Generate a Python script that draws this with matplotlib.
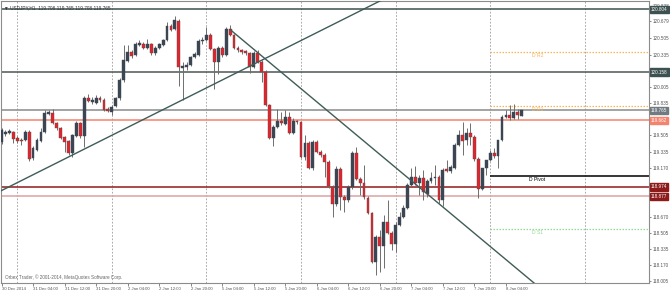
import matplotlib
matplotlib.use('Agg')
import matplotlib.pyplot as plt
from matplotlib.patches import Rectangle

plt.rcParams['font.family'] = ['Liberation Sans', 'DejaVu Sans']

# ---------------- data (USDJPY H1, bar index 0 = 30 Dec 2014 20:00) ----------------
opens = [119.437,119.520,119.530,119.540,119.479,119.458,119.458,119.540,119.273,119.355,
         119.448,119.540,119.726,119.736,119.633,119.582,119.489,119.448,119.324,119.499,
         119.633,119.499,119.891,119.849,119.839,119.891,119.870,119.777,119.746,119.808,
         119.891,120.076,120.272,120.364,120.334,120.437,120.447,120.406,120.447,120.354,
         120.406,120.437,120.488,120.632,120.601,120.684,120.200,120.210,120.230,120.313,
         120.334,120.478,120.488,120.540,120.395,120.261,120.406,120.334,120.601,120.540,
         120.406,120.385,120.375,120.354,120.210,120.354,120.261,120.158,119.819,119.479,
         119.592,119.654,119.623,119.695,119.530,119.654,119.643,119.283,119.427,119.170,
         119.437,119.334,119.304,119.231,118.974,118.799,119.159,118.871,118.840,118.974,
         119.324,119.057,119.015,118.861,118.706,118.201,118.459,118.366,118.613,118.500,
         118.387,118.583,118.665,118.758,118.995,119.077,119.015,119.067,118.902,119.036,
         119.067,119.077,118.840,119.159,119.139,119.170,119.407,119.510,119.458,119.530,
         119.489,119.262,118.953,119.170,119.252,119.324,119.293,119.458,119.695,119.716,
         119.685,119.746,119.708]
highs = [119.582,119.561,119.571,119.551,119.499,119.479,119.561,119.561,119.396,119.479,
         119.582,119.767,119.767,119.777,119.643,119.592,119.499,119.458,119.520,119.654,
         119.643,119.911,119.932,119.901,119.922,119.911,119.891,119.798,119.819,119.901,
         120.097,120.437,120.437,120.385,120.467,120.488,120.467,120.498,120.457,120.426,
         120.457,120.498,120.673,120.653,120.735,120.704,120.261,120.261,120.323,120.364,
         120.498,120.519,120.622,120.560,120.406,120.426,120.426,120.622,120.643,120.550,
         120.426,120.395,120.385,120.364,120.375,120.385,120.282,120.179,119.829,119.613,
         119.777,119.746,119.767,119.746,119.685,119.664,119.654,119.510,119.448,119.458,
         119.458,119.355,119.324,119.252,118.995,119.190,119.180,118.892,118.995,119.345,
         119.386,119.077,119.200,118.881,118.716,118.479,118.531,118.686,118.840,118.520,
         118.613,118.716,118.789,119.015,119.170,119.190,119.098,119.149,119.057,119.128,
         119.200,119.098,119.170,119.252,119.200,119.427,119.561,119.643,119.582,119.633,
         119.510,119.283,119.170,119.252,119.355,119.376,119.458,119.716,119.767,119.818,
         119.829,119.777,119.765]
lows = [119.417,119.499,119.520,119.427,119.427,119.407,119.448,119.242,119.252,119.345,
        119.437,119.530,119.716,119.623,119.561,119.468,119.334,119.304,119.283,119.489,
        119.479,119.386,119.849,119.829,119.829,119.849,119.757,119.746,119.716,119.798,
        119.870,120.055,120.261,120.303,120.323,120.426,120.395,120.395,120.334,120.334,
        120.395,120.426,120.478,120.581,120.591,120.014,119.870,120.179,120.220,120.303,
        120.323,120.447,120.478,120.385,119.983,120.138,120.313,120.323,120.529,120.395,
        120.364,120.344,120.334,120.148,120.200,120.251,120.055,119.808,119.468,119.396,
        119.582,119.613,119.613,119.520,119.520,119.623,119.273,119.252,119.159,119.149,
        119.324,119.283,119.077,118.964,118.665,118.778,118.737,118.716,118.819,118.953,
        119.046,118.892,118.850,118.696,118.191,118.068,118.098,118.140,118.490,118.325,
        118.304,118.572,118.655,118.747,118.984,118.995,118.892,118.840,118.871,119.015,
        118.995,118.809,118.778,119.128,119.118,119.159,119.396,119.304,119.407,119.407,
        119.242,118.861,118.943,119.098,119.242,119.273,119.170,119.448,119.685,119.664,
        119.675,119.675,119.708]
closes = [119.561,119.540,119.551,119.468,119.448,119.448,119.540,119.262,119.376,119.458,
          119.540,119.736,119.746,119.633,119.582,119.479,119.437,119.324,119.510,119.633,
          119.499,119.891,119.860,119.870,119.891,119.870,119.767,119.757,119.798,119.891,
          120.076,120.282,120.364,120.323,120.447,120.457,120.406,120.447,120.354,120.406,
          120.447,120.488,120.632,120.591,120.694,120.210,120.220,120.230,120.313,120.344,
          120.478,120.488,120.540,120.395,120.261,120.406,120.334,120.601,120.540,120.406,
          120.385,120.364,120.354,120.210,120.354,120.261,120.158,119.819,119.479,119.592,
          119.654,119.633,119.695,119.530,119.654,119.643,119.283,119.427,119.170,119.437,
          119.334,119.304,119.231,118.984,118.799,119.159,118.871,118.840,118.974,119.324,
          119.057,119.015,118.871,118.706,118.201,118.459,118.366,118.613,118.500,118.387,
          118.583,118.665,118.758,118.995,119.077,119.015,119.067,118.922,119.036,119.067,
          119.077,118.840,119.149,119.139,119.180,119.407,119.510,119.448,119.530,119.489,
          119.262,118.953,119.170,119.252,119.324,119.293,119.458,119.695,119.716,119.685,
          119.746,119.716,119.765]

time_labels = ["30 Dec 2014", "31 Dec 04:00", "31 Dec 12:00", "31 Dec 20:00", "2 Jan 04:00",
               "2 Jan 12:00", "2 Jan 20:00", "5 Jan 04:00", "5 Jan 12:00", "5 Jan 20:00",
               "6 Jan 04:00", "6 Jan 12:00", "6 Jan 20:00", "7 Jan 04:00", "7 Jan 12:00",
               "7 Jan 20:00", "8 Jan 04:00"]
label_bars = [0, 8, 16, 24, 32, 40, 48, 56, 64, 72, 80, 88, 96, 104, 112, 120, 128]
grid_bars = [4, 28, 52, 76, 100, 124, 148]
price_ticks = [118.005, 118.170, 118.335, 118.505, 118.670, 119.170, 119.335, 119.505,
               119.835, 120.005, 120.335, 120.505, 120.679, 120.838]

# horizontal levels: price, line colour, label box colour
level_prices = [120.804, 120.158, 119.765, 119.662, 118.974, 118.877]
level_colors = ['#3d5150', '#4b5656', '#8a8a8a', '#f4836e', '#8e1b1b', '#dba3a3']
level_boxes = ['#3d5150', '#3d5150', '#707a80', '#f4836e', '#8e1b1b', '#8e1b1b']

# daily pivot levels (from 8 Jan 00:00)
pivot_names = ['D R2', 'D R1', 'D Pivot', 'D S1']
pivot_prices = [120.362, 119.808, 119.087, 118.541]
pivot_colors = ['#f7b55a', '#f7b55a', '#000000', '#92dc92']
pivot_start = 124

# trend lines (bar, price)
trend_up_bars = [-1, 100]
trend_up_prices = [118.917, 120.971]
trend_dn_bars = [58, 140]
trend_dn_prices = [120.596, 117.820]

# ---------------- figure ----------------
W, H = 670, 292
fig = plt.figure(figsize=(W / 100, H / 100), dpi=100)
fig.patch.set_facecolor('white')
ax = fig.add_axes([1 / W, 9 / H, 648 / W, 282 / H])
ax.set_xlim(-0.13, 164.3)
ax.set_ylim(117.985, 120.890)

for gb in grid_bars:
    ax.axvline(gb, color='#9a9a9a', lw=0.6, ls=(0, (2, 2)), zorder=1)

for p, c in zip(level_prices, level_colors):
    ax.axhline(p, color=c, lw=1.1, zorder=2)

for name, p, c in zip(pivot_names, pivot_prices, pivot_colors):
    ls = '-' if name == 'D Pivot' else (0, (1.2, 1.2))
    ax.hlines(p, pivot_start, 170, color=c, lw=0.9 if name != 'D Pivot' else 1.1, ls=ls, zorder=2)
    ax.text(136, p - 0.012, name, color=c, fontsize=3.6, ha='center', va='top', zorder=3)

# candles
bw = 0.72
for i, (o, h, l, c) in enumerate(zip(opens, highs, lows, closes)):
    bull = c >= o
    ax.vlines(i, l, h, color='#6e6e6e', lw=0.7, zorder=4)
    lo = min(o, c)
    hh = max(abs(c - o), 0.006)
    fc = '#3b4652' if bull else '#e5232c'
    ec = '#3b4652' if bull else '#5a4a4a'
    ax.add_patch(Rectangle((i - bw / 2, lo), bw, hh, facecolor=fc, edgecolor=ec,
                           lw=0.3, zorder=5))

ax.plot(trend_up_bars, trend_up_prices, color='#3f5c58', lw=1.0, zorder=6)
ax.plot(trend_dn_bars, trend_dn_prices, color='#3f5c58', lw=1.0, zorder=6)

# axes styling
for s in ax.spines.values():
    s.set_color('#8c8c8c')
    s.set_linewidth(0.8)
ax.yaxis.tick_right()
ax.set_yticks(price_ticks)
ax.set_yticklabels([f'{p:.3f}' for p in price_ticks])
ax.tick_params(axis='y', length=1.5, width=0.5, pad=0.8, labelsize=3.3, colors='#555555')
ax.set_xticks(label_bars)
ax.set_xticklabels(time_labels, ha='left')
ax.tick_params(axis='x', length=2, width=0.5, pad=1.2, labelsize=3.1, colors='#555555')

# level label boxes on right axis
for p, bc in zip(level_prices, level_boxes):
    ax.annotate(f'{p:.3f}', xy=(1, p), xycoords=('axes fraction', 'data'),
                xytext=(1.3, 0), textcoords='offset points', fontsize=3.3,
                color='white', va='center', ha='left', annotation_clip=False,
                bbox=dict(boxstyle='square,pad=0.25', fc=bc, ec=bc), zorder=10)

ax.text(0.004, 0.985, '\u25BC USDJPY,H1  119.708 119.765 119.708 119.765', transform=ax.transAxes,
        fontsize=3.4, color='#333333', va='top', ha='left')
ax.text(0.006, 0.012, 'Orbex Trader, \u00a9 2001-2014, MetaQuotes Software Corp.',
        transform=ax.transAxes, fontsize=3.3, color='#666666', va='bottom', ha='left')

fig.savefig('out.png', dpi=100)
